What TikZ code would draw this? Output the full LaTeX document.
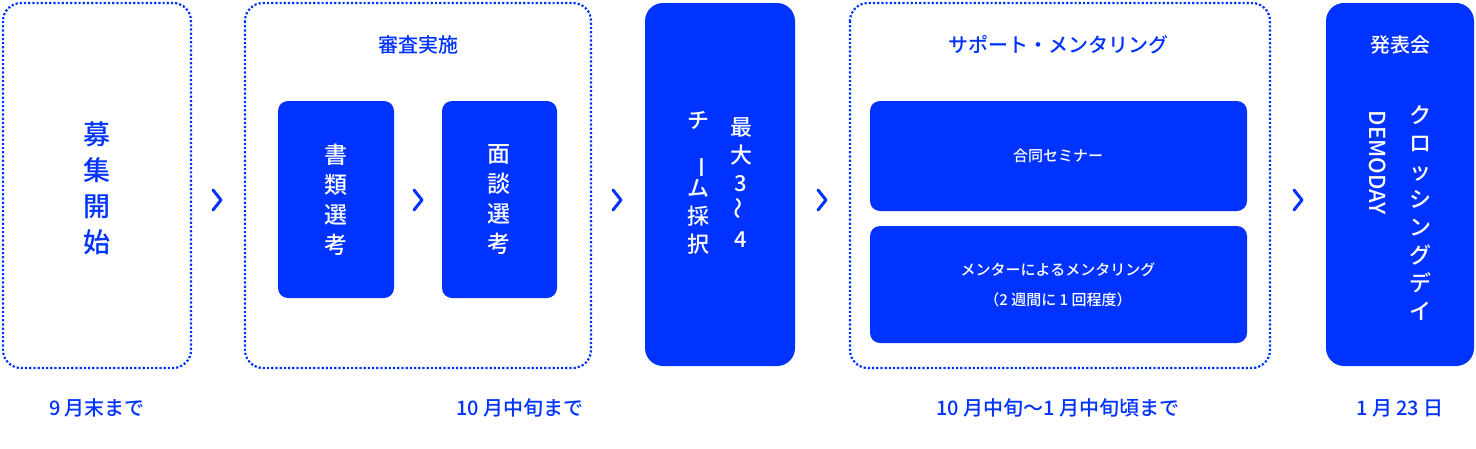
\documentclass[tikz,border=0pt]{standalone}
\usepackage{fontspec}
\newfontfamily\jp{Noto Sans CJK JP}
\newfontfamily\jpb{Noto Sans CJK JP Medium}
\begin{document}
\begin{tikzpicture}[x=1pt,y=-1pt,
  dotbox/.style={draw=bl,line width=2.2pt,dotted,rounded corners=18pt},
  fillbox/.style={fill=bl,rounded corners=18pt},
  innerbox/.style={fill=bl,rounded corners=10pt},
  wt/.style={text=white,align=center,inner sep=0pt},
  bt/.style={text=bl,align=center,inner sep=0pt},
  chev/.style={draw=bl,line width=3pt,line cap=round,line join=round}]
\definecolor{bl}{HTML}{0033FF}
\useasboundingbox (0,0) rectangle (1476,448);
% boxes
\draw[dotbox] (3,3) rectangle (191,368);
\draw[dotbox] (245,3) rectangle (591,368);
\fill[innerbox] (278,101) rectangle (394,298);
\fill[innerbox] (442,101) rectangle (557,298);
\fill[fillbox] (645,3) rectangle (795,366);
\draw[dotbox] (850,3) rectangle (1270,368);
\fill[innerbox] (870,101) rectangle (1247,211);
\fill[innerbox] (870,226) rectangle (1247,343);
\fill[fillbox] (1326,3) rectangle (1474,366);
% texts
\node[bt,font=\jpb\fontsize{27}{36}\selectfont] (t1) at (97,188) {募\\集\\開\\始};
\node[bt,font=\jpb\fontsize{20}{24}\selectfont] (h2) at (418,45) {審査実施};
\node[wt,font=\jpb\fontsize{23}{30}\selectfont] (t2) at (336,200) {書\\類\\選\\考};
\node[wt,font=\jpb\fontsize{23}{30}\selectfont] (t3) at (499,200) {面\\談\\選\\考};
\node[wt,font=\jpb\fontsize{22}{28}\selectfont] (t4a) at (741,183) {最\\大\\3\\\rotatebox{90}{〜}\\4};
\node[wt,font=\jpb\fontsize{22}{28}\selectfont] (t4b) at (698,183) {チ\\\rotatebox{-90}{ー}\\ム\\採\\択};
\node[bt,font=\jpb\fontsize{20}{24}\selectfont] (h4) at (1058,45) {サポート・メンタリング};
\node[wt,font=\jpb\fontsize{15}{30}\selectfont] (t5) at (1058,156) {合同セミナー};
\node[wt,font=\jpb\fontsize{15}{30}\selectfont] (t6) at (1058,285) {メンターによるメンタリング\\（2 週間に 1 回程度）};
\node[wt,font=\jpb\fontsize{20}{24}\selectfont] (h5) at (1400,45) {発表会};
\node[wt,font=\jpb\fontsize{22}{28}\selectfont] (t7) at (1420,213) {ク\\ロ\\ッ\\シ\\ン\\グ\\デ\\イ};
\node[wt,font=\jpb\fontsize{22}{28}\selectfont,rotate=-90] (t8) at (1378,163) {DEMODAY};
% dates
\node[bt,font=\jpb\fontsize{20}{24}\selectfont] (d1) at (97,408) {9 月末まで};
\node[bt,font=\jpb\fontsize{20}{24}\selectfont] (d2) at (520,408) {10 月中旬まで};
\node[bt,font=\jpb\fontsize{20}{24}\selectfont] (d3) at (1058,408) {10 月中旬〜1 月中旬頃まで};
\node[bt,font=\jpb\fontsize{20}{24}\selectfont] (d4) at (1400,408) {1 月 23 日};
% chevrons
\foreach \x in {217,418,617,822,1298}
  \draw[chev] (\x-4,190) -- (\x+4,200) -- (\x-4,210);
\end{tikzpicture}
\end{document}
